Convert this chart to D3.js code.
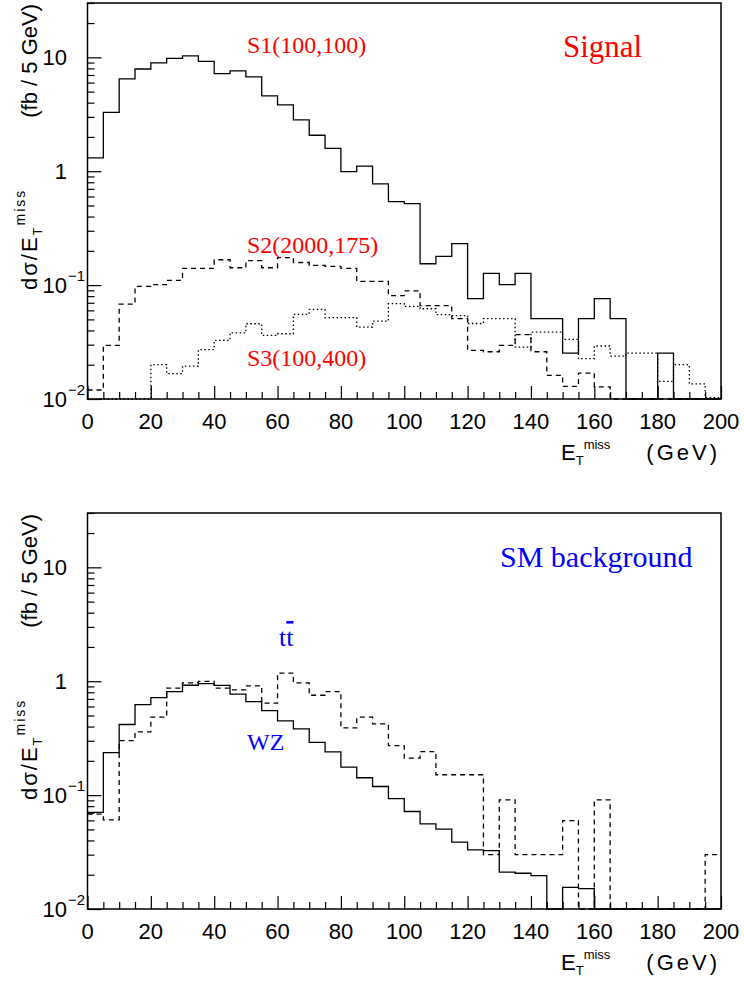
<!DOCTYPE html>
<html>
<head>
<meta charset="utf-8">
<script src="https://cdn.jsdelivr.net/npm/d3@7"></script>
<style>
  body { margin: 0; background: #fff; }
  svg { display: block; }
  .lbl { font-family: "Liberation Sans", Arial, sans-serif; fill: #000; }
  .note { font-family: "Liberation Serif", "Times New Roman", serif; }
</style>
</head>
<body>
<svg id="chart"></svg>
<script>
const width = 744, height = 984;

// bin lower edges (GeV), 5 GeV bins
const binWidth = 5;
const binLow = [0, 5, 10, 15, 20, 25, 30, 35, 40, 45, 50, 55, 60, 65, 70, 75, 80, 85, 90, 95,
                100, 105, 110, 115, 120, 125, 130, 135, 140, 145, 150, 155, 160, 165, 170, 175, 180, 185, 190, 195];

// signal: fb / 5 GeV  (0 = empty bin)
const s1 = [1.31, 3.29, 6.46, 7.9, 8.93, 9.8, 10.3, 9.2, 7.2, 7.6,
            6.73, 4.58, 3.82, 2.82, 2.07, 1.59, 0.99, 1.11, 0.775, 0.54,
            0.52, 0.154, 0.179, 0.231, 0.076, 0.127, 0.101, 0.127, 0.0507, 0.0507,
            0.0253, 0.0507, 0.076, 0.0507, 0, 0, 0.0253, 0, 0, 0];
const s2 = [0.012, 0.0296, 0.068, 0.0975, 0.101, 0.11, 0.14, 0.14, 0.167, 0.142,
            0.164, 0.142, 0.174, 0.158, 0.149, 0.146, 0.14, 0.108, 0.108, 0.081,
            0.089, 0.066, 0.066, 0.0507, 0.0267, 0.026, 0.0296, 0.0367, 0.026, 0.0161,
            0.0129, 0.0169, 0.0128, 0, 0, 0, 0, 0, 0, 0];
const s3 = [0, 0, 0, 0, 0.02, 0.0167, 0.0194, 0.0271, 0.0327, 0.038,
            0.0458, 0.0362, 0.0374, 0.0553, 0.0612, 0.0518, 0.0518, 0.0428, 0.0483, 0.0687,
            0.065, 0.062, 0.055, 0.054, 0.046, 0.0507, 0.0507, 0.0286, 0.0387, 0.0387,
            0.0334, 0.0226, 0.0292, 0.0238, 0.0253, 0.0253, 0.0143, 0.02, 0.0136, 0.0103];

// SM background
const wz = [0.0704, 0.236, 0.417, 0.624, 0.718, 0.81, 0.922, 0.953, 0.92, 0.769,
            0.663, 0.552, 0.449, 0.382, 0.29, 0.24, 0.176, 0.142, 0.119, 0.093,
            0.0718, 0.056, 0.0503, 0.0387, 0.0331, 0.0326, 0.0211, 0.0206, 0.0196, 0,
            0.0155, 0.0151, 0, 0, 0, 0, 0, 0, 0, 0];
const ttbar = [0.068, 0.0607, 0.301, 0.359, 0.483, 0.869, 0.966, 0.997, 0.87, 0.839,
               0.91, 0.641, 1.18, 0.966, 0.753, 0.81, 0.39, 0.483, 0.422, 0.272,
               0.211, 0.241, 0.151, 0.151, 0.151, 0.03, 0.091, 0.03, 0.03, 0.03,
               0.0598, 0, 0.091, 0, 0, 0, 0, 0, 0, 0.03];

const xTickValues = [0, 20, 40, 60, 80, 100, 120, 140, 160, 180, 200];
const yTickValues = [10, 1, 0.1, 0.01];
const yTickBase = ["10", "1", "10", "10"];
const yTickExp = ["", "", "\u22121", "\u22122"];
const yDomain = [0.01, 30];

const svg = d3.select("#chart").attr("width", width).attr("height", height);

const x = d3.scaleLinear().domain([0, 200]).range([87.5, 721]);

const line = d3.line().x(d => x(d[0])).y(d => d[1]);

const panels = [
  {
    top: 3, bottom: 399,
    series: [
      { values: s1, dash: null },
      { values: s2, dash: "5,4" },
      { values: s3, dash: "1.5,2.5" }
    ],
    notes: [
      { text: "S1(100,100)", x: 247, y: 53, size: 24, color: "#ff0000" },
      { text: "Signal", x: 563, y: 57, size: 31, color: "#ff0000" },
      { text: "S2(2000,175)", x: 247, y: 253, size: 24, color: "#ff0000" },
      { text: "S3(100,400)", x: 247, y: 366, size: 24, color: "#ff0000" }
    ]
  },
  {
    top: 513, bottom: 909,
    series: [
      { values: wz, dash: null },
      { values: ttbar, dash: "5,4" }
    ],
    notes: [
      { text: "SM background", x: 500, y: 567, size: 30, color: "#0000ff" },
      { text: "WZ", x: 247, y: 750, size: 24, color: "#0000ff" },
      { text: "tt", x: 279, y: 646, size: 26, color: "#0000ff", bar: true }
    ]
  }
];

panels.forEach(p => {
  const y = d3.scaleLog().domain(yDomain).range([p.bottom, p.top]).clamp(true);
  const g = svg.append("g");
  const x0 = x.range()[0], x1 = x.range()[1];

  // histograms
  p.series.forEach(s => {
    const pts = [];
    s.values.forEach((v, i) => {
      const yy = y(v > 0 ? v : yDomain[0]);
      pts.push([binLow[i], yy], [binLow[i] + binWidth, yy]);
    });
    g.append("path")
      .attr("d", line(pts))
      .attr("fill", "none")
      .attr("stroke", "#000")
      .attr("stroke-width", 1.3)
      .attr("stroke-dasharray", s.dash);
  });

  // y ticks (inside)
  const minorY = y.ticks().filter(t => !yTickValues.includes(t));
  g.append("g").attr("transform", `translate(${x0},0)`)
    .call(d3.axisRight(y).tickValues(minorY).tickSize(7).tickFormat(""))
    .call(a => a.select(".domain").remove());
  g.append("g").attr("transform", `translate(${x0},0)`)
    .call(d3.axisRight(y).tickValues(yTickValues).tickSize(14).tickFormat(""))
    .call(a => a.select(".domain").remove());

  // x ticks (inside)
  const minorX = binLow.filter(t => !xTickValues.includes(t));
  g.append("g").attr("transform", `translate(0,${p.bottom})`)
    .call(d3.axisTop(x).tickValues(minorX).tickSize(7).tickFormat(""))
    .call(a => a.select(".domain").remove());
  g.append("g").attr("transform", `translate(0,${p.bottom})`)
    .call(d3.axisTop(x).tickValues(xTickValues).tickSize(13).tickFormat(""))
    .call(a => a.select(".domain").remove());
  g.selectAll(".tick line").attr("stroke-width", 1.2);

  // frame
  g.append("rect")
    .attr("x", x0).attr("y", p.top)
    .attr("width", x1 - x0).attr("height", p.bottom - p.top)
    .attr("fill", "none").attr("stroke", "#000").attr("stroke-width", 1.5);

  // x tick labels
  g.selectAll(".xl").data(xTickValues).join("text")
    .attr("class", "lbl")
    .attr("x", d => x(d)).attr("y", p.bottom + 30)
    .attr("text-anchor", "middle")
    .attr("font-size", 22)
    .text(d => d);

  // y tick labels
  yTickValues.forEach((v, i) => {
    g.append("text").attr("class", "lbl")
      .attr("x", 67).attr("y", y(v) + 8)
      .attr("text-anchor", "end").attr("font-size", 22)
      .text(yTickBase[i]);
    if (yTickExp[i]) {
      g.append("text").attr("class", "lbl")
        .attr("x", 68).attr("y", y(v) - 4)
        .attr("font-size", 15)
        .text(yTickExp[i]);
    }
  });

  // x title
  const xt = g.append("text").attr("class", "lbl")
    .attr("x", 561).attr("y", p.bottom + 61).attr("font-size", 22);
  xt.append("tspan").text("E");
  xt.append("tspan").attr("font-size", 13).attr("dy", 5).text("T");
  xt.append("tspan").attr("font-size", 13).attr("dy", -16).text("miss");
  g.append("text").attr("class", "lbl")
    .attr("x", 720).attr("y", p.bottom + 61)
    .attr("text-anchor", "end").attr("font-size", 22)
    .attr("letter-spacing", 3)
    .text("(GeV)");

  // y title (rotated)
  const yt = g.append("text").attr("class", "lbl")
    .attr("transform", `translate(37,${p.top + 287}) rotate(-90)`)
    .attr("font-size", 22).attr("letter-spacing", 2);
  yt.append("tspan").text("d\u03c3/E");
  yt.append("tspan").attr("font-size", 13).attr("dy", 5).text("T");
  yt.append("tspan").attr("font-size", 14).attr("dy", -17).text("miss");
  g.append("text").attr("class", "lbl")
    .attr("transform", `translate(37,${p.top + 1}) rotate(-90)`)
    .attr("text-anchor", "end").attr("font-size", 22)
    .text("(fb / 5 GeV)");

  // annotations
  p.notes.forEach(n => {
    const t = g.append("text").attr("class", "note")
      .attr("x", n.x).attr("y", n.y)
      .attr("font-size", n.size).attr("fill", n.color);
    if (n.bar) {
      t.append("tspan").text("t");
      t.append("tspan").style("text-decoration", "overline").text("t");
    } else {
      t.text(n.text);
    }
  });
});
</script>
</body>
</html>
